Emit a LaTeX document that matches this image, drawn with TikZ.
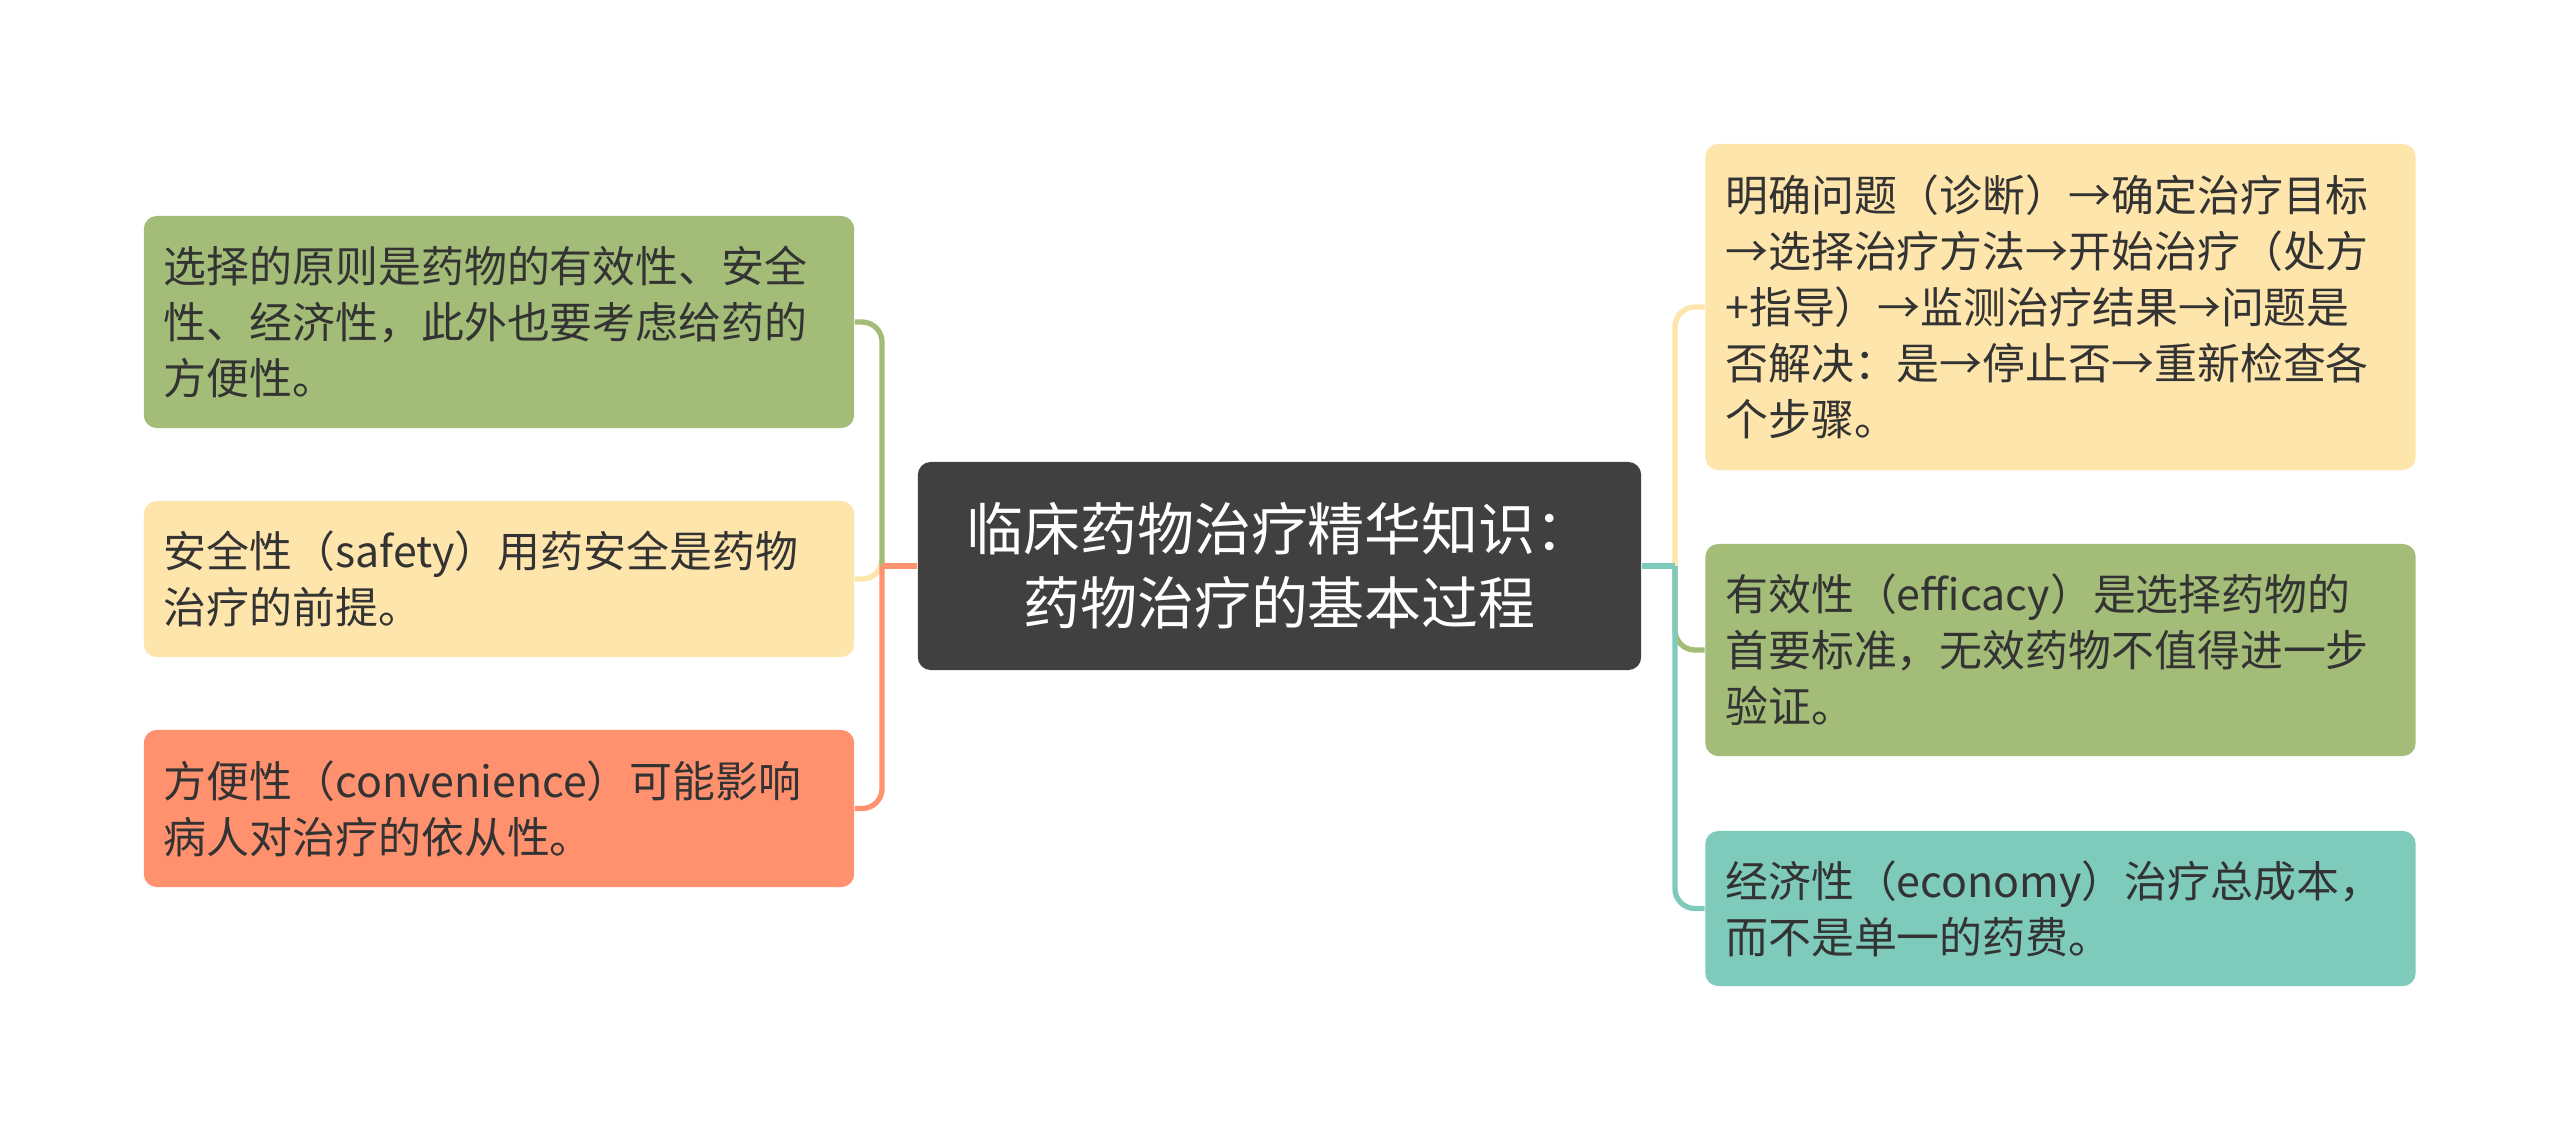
\documentclass[tikz,border=0pt]{standalone}
\usepackage{fontspec}
\setmainfont{Noto Sans CJK SC}
\usepackage{tikz}
\usetikzlibrary{positioning}
\definecolor{verde}{RGB}{163, 188, 120}
\definecolor{crema}{RGB}{254, 229, 171}
\definecolor{coral}{RGB}{255, 145, 111}
\definecolor{menta}{RGB}{126, 203, 188}
\definecolor{grafito}{RGB}{64, 64, 64}
\definecolor{tinta}{RGB}{51, 51, 51}
\tikzset{
    raiz/.style={rectangle, rounded corners=0.13cm, fill=grafito, text=white, align=center, minimum width=7.23cm, minimum height=2.08cm, font=\fontsize{16.2pt}{21pt}\selectfont},
    hoja/.style={rectangle, rounded corners=0.13cm, text=tinta, align=left, text width=6.7cm, inner xsep=0.2cm, inner ysep=0pt, font=\fontsize{12.2pt}{15.9pt}\selectfont},
    conn/.style={-, line width=1.5pt, rounded corners=0.2cm},
}
\begin{document}
\begin{tikzpicture}[x=0.01cm, y=-0.01cm]
            \fill[white] (0,0) rectangle (2560,1132);
            \useasboundingbox (0,0) rectangle (2560,1132);

            \node [raiz] (main) at (1279.5,566) {临床药物治疗精华知识：\\药物治疗的基本过程};

            \node [hoja, fill=verde, minimum height=2.12cm] (gl) at (499,322) {选择的原则是药物的有效性、安全\\性、经济性，此外也要考虑给药的\\方便性。};
            \node [hoja, fill=crema, minimum height=1.56cm] (yl) at (499,579) {安全性（safety）用药安全是药物\\治疗的前提。};
            \node [hoja, fill=coral, minimum height=1.57cm] (ol) at (499,808.5) {方便性（convenience）可能影响\\病人对治疗的依从性。};

            \node [hoja, fill=crema, minimum height=3.26cm] (yr) at (2060.5,307) {明确问题（诊断）→确定治疗目标\\→选择治疗方法→开始治疗（处方\\+指导）→监测治疗结果→问题是\\否解决：是→停止否→重新检查各\\个步骤。};
            \node [hoja, fill=verde, minimum height=2.12cm] (gr) at (2060.5,650) {有效性（efficacy）是选择药物的\\首要标准，无效药物不值得进一步\\验证。};
            \node [hoja, fill=menta, minimum height=1.55cm] (tr) at (2060.5,908.5) {经济性（economy）治疗总成本，\\而不是单一的药费。};

            \coordinate [left=0.35cm of main] (jl);
            \coordinate [right=0.33cm of main] (jr);

            \draw[conn, crema] (jl) |- (yl.east);
            \draw[conn, verde] (jl) |- (gl.east);
            \draw[conn, coral] (jl) |- (ol.east);
            \draw[conn, coral] (main.west) -- (jl);

            \draw[conn, crema] (jr) |- (yr.west);
            \draw[conn, verde] (jr) |- (gr.west);
            \draw[conn, menta] (jr) |- (tr.west);
            \draw[conn, menta] (main.east) -- (jr);
\end{tikzpicture}
\end{document}
